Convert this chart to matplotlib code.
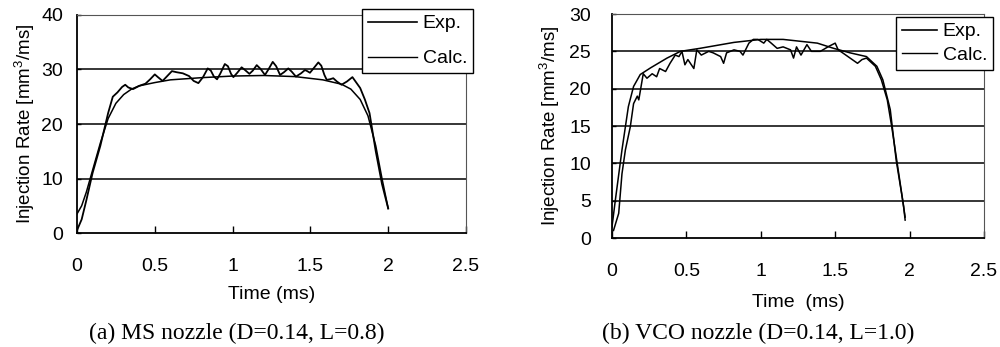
import numpy as np
import matplotlib
matplotlib.use('Agg')
import matplotlib.pyplot as plt
from matplotlib.lines import Line2D

plt.rcParams['font.family'] = ['Liberation Sans', 'DejaVu Sans']
plt.rcParams['mathtext.default'] = 'regular'

# (a) MS nozzle
ms_calc_t = [0, 0.03, 0.06, 0.1, 0.15, 0.2, 0.25, 0.3, 0.35, 0.4, 0.5, 0.6, 0.8, 1.0, 1.2,
             1.4, 1.58, 1.7, 1.76, 1.82, 1.87, 1.92, 1.96, 2.0]
ms_calc_v = [3.5, 5, 7.5, 11.5, 16.5, 21, 23.8, 25.4, 26.4, 27, 27.6, 28.1, 28.5, 28.8, 28.9,
             28.7, 28.1, 27.3, 26.4, 24.5, 21.5, 16, 10, 4.5]
ms_exp_t = [0, 0.03, 0.06, 0.1, 0.15, 0.2, 0.23, 0.26, 0.29, 0.31, 0.33, 0.36, 0.4, 0.44,
            0.47, 0.5, 0.52, 0.55, 0.58, 0.61, 0.64, 0.68, 0.72, 0.75, 0.78, 0.81, 0.84,
            0.86, 0.88, 0.9, 0.92, 0.95, 0.97, 0.99, 1.005, 1.03, 1.058, 1.08, 1.108, 1.13,
            1.155, 1.18, 1.208, 1.23, 1.258, 1.28, 1.305, 1.33, 1.358, 1.38, 1.407, 1.44,
            1.465, 1.48, 1.497, 1.52, 1.551, 1.57, 1.59, 1.605, 1.625, 1.647, 1.67, 1.7,
            1.735, 1.77, 1.79, 1.82, 1.85, 1.88, 1.92, 1.96, 2.0]
ms_exp_v = [0.5, 2.5, 6, 11, 16, 22, 25, 25.8, 26.8, 27.2, 26.7, 26.4, 27, 27.4,
            28.2, 29.1, 28.6, 27.9, 28.8, 29.7, 29.5, 29.3, 28.8, 27.9, 27.5, 28.6, 30.2,
            29.8, 28.7, 28.2, 29.2, 31.0, 30.6, 29.2, 28.6, 29.4, 30.4, 29.9, 29.2, 29.8,
            30.8, 30.1, 29.0, 30.0, 31.4, 30.6, 29.0, 29.5, 30.2, 29.6, 28.7, 29.3,
            29.9, 29.7, 29.4, 30.2, 31.3, 30.7, 29.0, 28.1, 28.2, 28.4, 27.8, 27.2,
            27.8, 28.6, 27.8, 26.6, 24.5, 22.0, 15, 9, 4.5]

# (b) VCO nozzle
vco_calc_t = [0, 0.022, 0.067, 0.11, 0.145, 0.19, 0.26, 0.37, 0.46, 0.59, 0.82, 1.0, 1.15,
              1.38, 1.49, 1.6, 1.71, 1.78, 1.82, 1.87, 1.91, 1.95, 1.97]
vco_calc_v = [1.5, 5, 11.8, 17.6, 20.3, 21.9, 22.8, 24.1, 25, 25.4, 26.2, 26.6, 26.6,
              26.1, 25.4, 24.8, 24.3, 23, 21.2, 17.2, 10.4, 5.5, 2.8]
vco_exp_t = [0.01, 0.045, 0.067, 0.09, 0.123, 0.145, 0.17, 0.18, 0.21, 0.235, 0.27, 0.3,
             0.32, 0.36, 0.39, 0.425, 0.45, 0.47, 0.49, 0.51, 0.55, 0.57, 0.6, 0.65, 0.68,
             0.73, 0.75, 0.77, 0.82, 0.86, 0.88, 0.92, 0.95, 0.98, 1.02, 1.04, 1.07, 1.11,
             1.15, 1.2, 1.22, 1.24, 1.27, 1.31, 1.34, 1.4, 1.46, 1.5, 1.52, 1.55, 1.6, 1.65,
             1.68, 1.71, 1.77, 1.81, 1.85, 1.88, 1.91, 1.96, 1.97]
vco_exp_v = [1, 3.3, 8.6, 11.8, 14.9, 18, 19, 18.5, 22, 21.4, 22, 21.6,
             22.7, 22.3, 23.4, 24.5, 24.3, 25, 23.2, 23.9, 22.7, 25.2, 24.5, 25, 24.8,
             24.3, 23.4, 24.8, 25.2, 25, 24.5, 26.1, 26.6, 26.6, 26.1, 26.6, 26.1, 25.4,
             25.6, 25.2, 24.1, 25.6, 24.5, 25.9, 25, 25, 25.7, 26.1, 25.2, 24.8, 24.1, 23.4,
             23.9, 24.1, 23, 21.2, 18.5, 14.9, 10.9, 4.2, 2.4]

x_ticks = [0, 0.5, 1, 1.5, 2, 2.5]
x_tick_labels = ['0', '0.5', '1', '1.5', '2', '2.5']

fig = plt.figure(figsize=(10, 3.47), dpi=100)
ax1 = fig.add_axes([0.077, 0.3285, 0.389, 0.6283])
ax2 = fig.add_axes([0.612, 0.3141, 0.372, 0.6455])


def style_axes(ax, ymax, ystep, ypad, xlabel, xlabelpad, ylabelpad):
    ax.set_xlim(0, 2.5)
    ax.set_ylim(0, ymax)
    ax.set_xticks(x_ticks)
    ax.set_xticklabels(x_tick_labels)
    ax.set_yticks(np.arange(0, ymax + 1, ystep))
    for y in np.arange(ystep, ymax, ystep):
        ax.axhline(y, color='black', lw=1.1, zorder=1)
    ax.tick_params(axis='x', direction='in', length=5, width=1, pad=18, labelsize=14)
    ax.tick_params(axis='y', direction='in', length=3, width=1, pad=ypad, labelsize=14)
    for side in ['top', 'right']:
        ax.spines[side].set_color('#555555')
        ax.spines[side].set_linewidth(0.8)
    for side in ['left', 'bottom']:
        ax.spines[side].set_linewidth(1.3)
    ax.set_xlabel(xlabel, fontsize=14, labelpad=xlabelpad)
    ax.set_ylabel('Injection Rate [mm$^{3}$/ms]', fontsize=13.5, labelpad=ylabelpad)


ax1.plot(ms_calc_t, ms_calc_v, color='black', lw=1.1, zorder=3)
ax1.plot(ms_exp_t, ms_exp_v, color='black', lw=1.3, zorder=3)
style_axes(ax1, 40, 10, 10, 'Time (ms)', 8, 3)

ax2.plot(vco_calc_t, vco_calc_v, color='black', lw=1.1, zorder=3)
ax2.plot(vco_exp_t, vco_exp_v, color='black', lw=1.1, zorder=3)
style_axes(ax2, 30, 5, 15, 'Time  (ms)', 10, 5)

handles = [Line2D([], [], color='black', lw=1.2), Line2D([], [], color='black', lw=1.0)]
for ax, anchor, hl, spacing in [(ax1, (1.018, 1.028), 2.5, 0.9), (ax2, (1.024, 0.987), 1.8, 0.3)]:
    leg = ax.legend(handles, ['Exp.', 'Calc.'], loc='upper right', bbox_to_anchor=anchor,
                    borderaxespad=0, fontsize=14, frameon=True, fancybox=False,
                    framealpha=1, edgecolor='black', handlelength=hl, handletextpad=0.3,
                    labelspacing=spacing, borderpad=0.3)
    leg.get_frame().set_linewidth(1.0)
    leg.set_zorder(5)

fig.text(0.237, 1 - 333 / 347, '(a) MS nozzle (D=0.14, L=0.8)', ha='center', va='center',
         fontsize=17, family='Liberation Serif')
fig.text(0.758, 1 - 333 / 347, '(b) VCO nozzle (D=0.14, L=1.0)', ha='center', va='center',
         fontsize=17, family='Liberation Serif')

fig.savefig('out.png', dpi=100)
